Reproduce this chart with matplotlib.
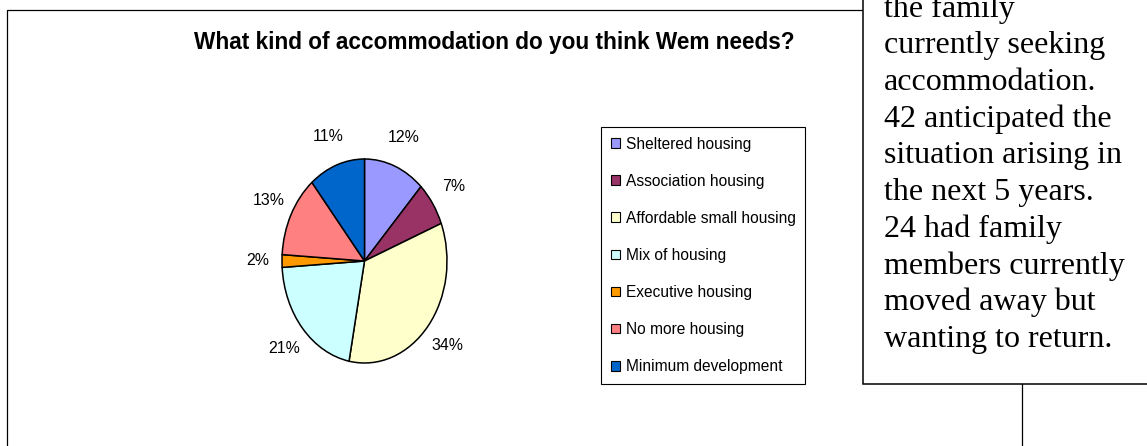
import matplotlib
matplotlib.use('Agg')
import matplotlib.pyplot as plt
import matplotlib.patches as mpatches

# Survey answers (share of respondents, %)
CATEGORIES = ['Sheltered housing', 'Association housing', 'Affordable small housing',
              'Mix of housing', 'Executive housing', 'No more housing',
              'Minimum development']
SHARES = [12, 7, 34, 21, 2, 13, 11]
COLORS = ['#9999FF', '#993366', '#FFFFCC', '#CCFFFF', '#FF9900', '#FF8080', '#0066CC']

TITLE = 'What kind of accommodation do you think Wem needs?'
NOTE_LINES = ['the family', 'currently seeking', 'accommodation.',
              '42 anticipated the', 'situation arising in', 'the next 5 years.',
              '24 had family', 'members currently', 'moved away but',
              'wanting to return.']

SANS = ['Liberation Sans', 'DejaVu Sans']
SERIF = ['Liberation Serif', 'DejaVu Serif']

W, H = 1147, 446


def fig_box(left, top, width, height):
    """pixel box (from top-left) -> figure fraction rect"""
    return [left / W, 1 - (top + height) / H, width / W, height / H]


fig = plt.figure(figsize=(W / 100, H / 100), dpi=100)

# background layer: chart frame + note box, in pixel coordinates
bg = fig.add_axes([0, 0, 1, 1])
bg.set_xlim(0, W)
bg.set_ylim(H, 0)
bg.axis('off')
bg.add_patch(mpatches.Rectangle((7, 10), 1015, 460, fill=False,
                                edgecolor='black', linewidth=0.9, zorder=1))
bg.add_patch(mpatches.Rectangle((863, -10), 300, 394, facecolor='white',
                                edgecolor='black', linewidth=1.1, zorder=2))
for i, line in enumerate(NOTE_LINES):
    bg.text(884, 16.7 + i * 36.7, line, fontsize=23, family=SERIF,
            ha='left', va='baseline', zorder=3)

bg.text(494.5, 42, TITLE, fontsize=16.3, fontweight='bold', family=SANS,
        ha='center', va='center')

# pie (drawn as an ellipse, taller than wide)
pad = 1.1
rx, ry = 82.5, 102
cx, cy = 364.5, 261
ax = fig.add_axes(fig_box(cx - rx * pad, cy - ry * pad, 2 * rx * pad, 2 * ry * pad))
wedges, texts = ax.pie(SHARES, labels=[f'{v}%' for v in SHARES], colors=COLORS,
                       startangle=90, counterclock=False, labeldistance=1.3,
                       wedgeprops=dict(edgecolor='black', linewidth=1.1),
                       textprops=dict(fontsize=11.4, family=SANS))
for t in texts:
    t.set_horizontalalignment('center')
    t.set_verticalalignment('center')
ax.set_aspect('auto')
ax.set_xlim(-pad, pad)
ax.set_ylim(-pad, pad)
ax.axis('off')

leg = ax.legend(wedges, CATEGORIES, loc='upper left',
                bbox_to_anchor=(601 / W, 1 - 127 / H), bbox_transform=fig.transFigure,
                borderaxespad=0, fancybox=False, framealpha=1, edgecolor='black',
                prop=dict(family=SANS, size=11.2), handlelength=0.58,
                handleheight=0.58, handletextpad=0.38, labelspacing=1.42,
                borderpad=0.62)
leg.get_frame().set_linewidth(0.8)
for h in leg.legend_handles:
    h.set_linewidth(0.8)

fig.savefig('out.png', dpi=100)
